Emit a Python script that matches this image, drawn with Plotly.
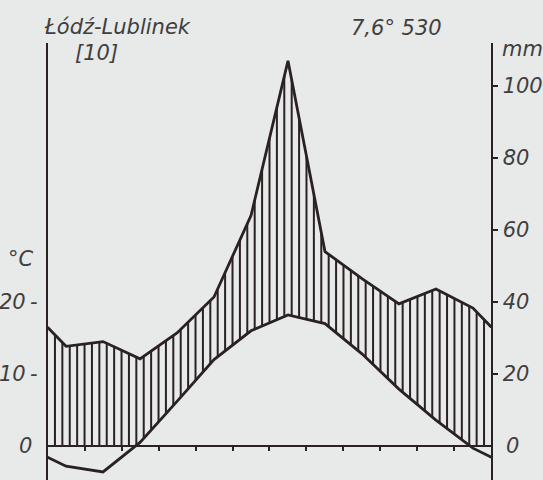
import numpy as np
import plotly.graph_objects as go

# ---- data ----
MONTHS = ["Jan", "Feb", "Mar", "Apr", "May", "Jun", "Jul", "Aug", "Sep", "Oct", "Nov", "Dec"]
TEMP_C = [-2.8, -3.6, 0.5, 6.2, 12.0, 16.0, 18.2, 17.0, 12.8, 7.9, 3.6, -0.3]
PRECIP_MM = [27.7, 29.0, 24.2, 31.4, 41.4, 64.0, 107.0, 54.0, 46.5, 39.5, 43.6, 38.3]
STATION = "Łódź-Lublinek"
YEARS = "[10]"
SUMMARY = "7,6° 530"
T_TICKS = [0, 10, 20]
P_TICKS = [20, 40, 60, 80, 100]
T_UNIT = "°C"
P_UNIT = "mm"

# ---- layout geometry (pixels) ----
W, H = 543, 480
X_LEFT, X_RIGHT = 48, 496
Y_ZERO, Y_TOP = 446, 43
PX_PER_C = 7.2
HATCH_PER_MONTH = 5

BG = "#e8e9e9"
INK = "#2a2222"
TXT = "#3f3f3f"
FONT = dict(family="DejaVu Sans", size=21, color=TXT, style="italic")
TFONT = dict(family="DejaVu Sans", size=21, color=TXT, style="italic")

n = len(MONTHS)
t = np.array(TEMP_C)
p = np.array(PRECIP_MM) / 2.0  # 10 °C = 20 mm
xm = np.arange(n) + 0.5
x_all = np.concatenate([[0], xm, [n]])
t_edge = (t[0] + t[-1]) / 2
p_edge = (p[0] + p[-1]) / 2
t_all = np.concatenate([[t_edge], t, [t_edge]])
p_all = np.concatenate([[p_edge], p, [p_edge]])

# hatching between curves (humid period), clipped at 0
hx, hy = [], []
for j in range(1, n * HATCH_PER_MONTH):
    xv = j / HATCH_PER_MONTH
    up = float(np.interp(xv, x_all, p_all))
    lo = max(float(np.interp(xv, x_all, t_all)), 0.0)
    if up > lo:
        hx += [xv, xv, None]
        hy += [lo, up, None]

y_lo = (Y_ZERO - H) / PX_PER_C
y_hi = (Y_ZERO - Y_TOP) / PX_PER_C
ydom = [0, (H - Y_TOP) / H]

fig = go.Figure()
fig.add_trace(go.Scatter(x=hx, y=hy, mode="lines", line=dict(color=INK, width=2),
                         hoverinfo="skip", showlegend=False))
fig.add_trace(go.Scatter(x=x_all, y=p_all, mode="lines", line=dict(color=INK, width=2.8),
                         showlegend=False))
fig.add_trace(go.Scatter(x=x_all, y=t_all, mode="lines", line=dict(color=INK, width=2.8),
                         showlegend=False))
# invisible trace for the secondary (mm) axis
fig.add_trace(go.Scatter(x=[0], y=[0], yaxis="y2", mode="markers",
                         marker=dict(opacity=0), hoverinfo="skip", showlegend=False))

fig.update_layout(
    width=W, height=H,
    margin=dict(l=0, r=0, t=0, b=0),
    paper_bgcolor=BG, plot_bgcolor=BG,
    showlegend=False,
    xaxis=dict(domain=[X_LEFT / W, X_RIGHT / W], range=[0, n], anchor="free",
               position=(H - Y_ZERO) / H, showline=True, linecolor=INK, linewidth=2,
               tickvals=list(range(1, n)), ticks="outside", ticklen=4, tickwidth=2,
               tickcolor=INK, showticklabels=False, showgrid=False, zeroline=False),
    yaxis=dict(domain=ydom, range=[y_lo, y_hi], showline=True, linecolor=INK, linewidth=2,
               showticklabels=False, ticks="", showgrid=False, zeroline=False),
    yaxis2=dict(domain=ydom, range=[2 * y_lo, 2 * y_hi], overlaying="y", side="right",
                anchor="x", showline=True, linecolor=INK, linewidth=2,
                tickvals=P_TICKS, ticktext=[str(v) for v in P_TICKS],
                ticks="outside", ticklen=5, tickwidth=2, tickcolor=INK,
                tickfont=FONT, showgrid=False, zeroline=False),
)

anns = []
def ann(text, x, y, xanchor="left", yref="paper", font=FONT):
    anns.append(dict(text=text, x=x / W, xref="paper", y=y, yref=yref,
                     xanchor=xanchor, yanchor="middle", showarrow=False, font=font))

for v in T_TICKS:
    ann(str(v) if v == 0 else f"{v}\u2009-", 40 if v else 34, v, xanchor="right", yref="y")
anns.append(dict(text="0", x=509 / W, xref="paper", y=0, yref="y2", xanchor="left",
                 yanchor="middle", showarrow=False, font=FONT))
ann(STATION, 42, 1 - 27 / H, font=TFONT)
ann(YEARS, 74, 1 - 53 / H, font=TFONT)
ann(SUMMARY, 352, 1 - 28 / H, font=TFONT)
ann(T_UNIT, 6, 1 - 259 / H)
ann(P_UNIT, 505, 1 - 49 / H)
fig.update_layout(annotations=anns)

fig.write_html(
    "out.html",
    config={"displayModeBar": False},
    post_script=("document.body.style.margin='0';document.body.style.padding='0';"
                 "document.body.style.overflow='hidden';"
                 f"document.body.style.background='{BG}';"),
)
